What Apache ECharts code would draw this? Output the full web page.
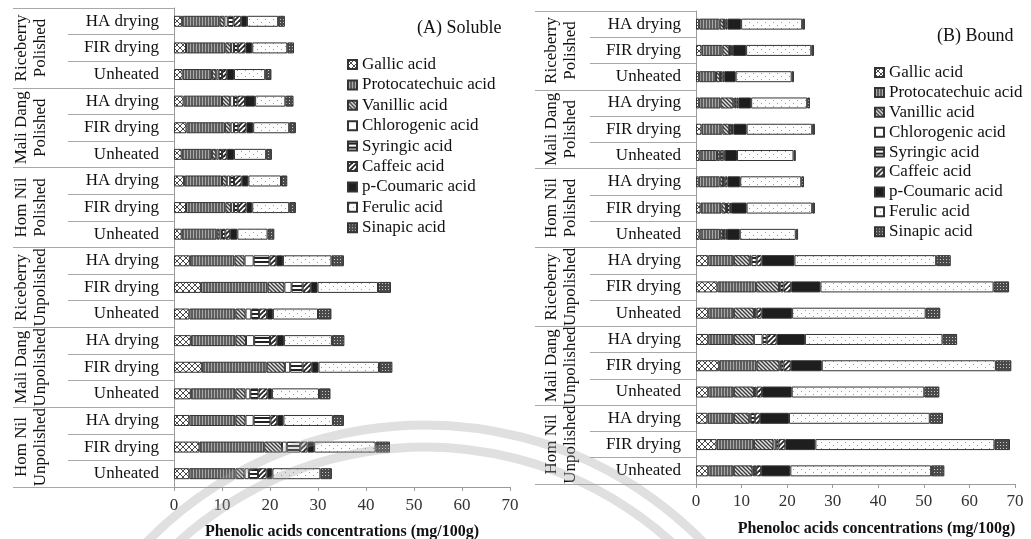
<!DOCTYPE html>
<html>
<head>
<meta charset="utf-8">
<script src="https://cdn.jsdelivr.net/npm/echarts@6/dist/echarts.min.js"></script>
<style>
  html, body { margin: 0; padding: 0; background: #fff; }
  #chart { width: 1031px; height: 539px; }
</style>
</head>
<body>
<div id="chart"></div>
<script>
// Row labels (top to bottom) and the rice sample groups they belong to
const treatments = ['HA drying', 'FIR drying', 'Unheated',
  'HA drying', 'FIR drying', 'Unheated',
  'HA drying', 'FIR drying', 'Unheated',
  'HA drying', 'FIR drying', 'Unheated',
  'HA drying', 'FIR drying', 'Unheated',
  'HA drying', 'FIR drying', 'Unheated'];
const samples = ['Riceberry\nPolished', 'Mali Dang\nPolished', 'Hom Nil\nPolished',
  'Riceberry\nUnpolished', 'Mali Dang\nUnpolished', 'Hom Nil\nUnpolished'];
const acids = ['Gallic acid', 'Protocatechuic acid', 'Vanillic acid', 'Chlorogenic acid',
  'Syringic acid', 'Caffeic acid', 'p-Coumaric acid', 'Ferulic acid', 'Sinapic acid'];
const xTicks = [0, 10, 20, 30, 40, 50, 60, 70];

// (A) Soluble phenolic acids, mg/100g, one value per row
const solGallic   = [1.7, 2.5, 1.8, 2.0, 2.6, 1.6, 2.1, 2.5, 1.6, 3.3, 5.6, 3.2, 3.5, 5.8, 3.5, 3.2, 5.3, 3.2];
const solProto    = [7.8, 8.2, 6.1, 8.0, 8.0, 6.3, 7.9, 8.2, 7.3, 9.3, 13.9, 9.6, 9.3, 13.5, 9.3, 9.6, 13.5, 9.6];
const solVanillic = [1.0, 1.2, 0.9, 1.7, 1.2, 0.9, 1.0, 1.2, 0.6, 2.1, 3.5, 2.1, 2.2, 3.8, 2.1, 2.1, 3.7, 1.9];
const solChloro   = [0.7, 0.6, 0.5, 0.8, 0.7, 0.5, 0.7, 0.6, 0.5, 1.9, 1.5, 1.2, 1.7, 1.1, 1.0, 1.7, 1.0, 0.9];
const solSyringic = [1.2, 0.8, 0.7, 0.7, 0.9, 0.7, 0.8, 0.8, 0.7, 3.3, 2.3, 1.6, 3.3, 2.6, 1.7, 3.5, 2.8, 1.9];
const solCaffeic  = [1.6, 1.6, 1.0, 1.6, 1.7, 1.0, 1.6, 1.8, 1.0, 1.4, 1.7, 1.7, 1.4, 1.9, 1.9, 1.4, 1.5, 1.8];
const solCoumaric = [1.2, 1.4, 1.5, 2.1, 1.4, 1.5, 1.4, 1.2, 1.5, 1.4, 1.4, 1.2, 1.5, 1.4, 0.9, 1.3, 1.4, 1.2];
const solFerulic  = [6.5, 7.3, 6.5, 6.3, 7.5, 6.7, 6.8, 7.7, 6.3, 10.1, 12.6, 9.4, 10.0, 12.6, 9.8, 10.3, 12.8, 10.0];
const solSinapic  = [1.4, 1.4, 1.3, 1.7, 1.4, 1.2, 1.3, 1.4, 1.4, 2.6, 2.7, 2.8, 2.6, 2.8, 2.4, 2.3, 3.0, 2.4];

// (B) Bound phenolic acids, mg/100g, one value per row
const bndGallic   = [0.7, 1.2, 0.7, 0.7, 1.2, 0.8, 0.6, 1.0, 0.8, 2.7, 4.7, 2.7, 2.7, 5.1, 2.7, 2.5, 4.5, 2.7];
const bndProto    = [4.5, 4.6, 3.7, 4.7, 4.6, 3.8, 4.6, 4.6, 4.5, 5.6, 8.5, 5.6, 5.6, 8.2, 5.6, 5.8, 8.2, 5.6];
const bndVanillic = [0.9, 1.5, 0.9, 2.8, 1.5, 0.6, 0.7, 1.0, 0.6, 3.5, 5.0, 4.4, 4.4, 5.0, 4.4, 3.4, 4.3, 4.1];
const bndChloro   = [0.1, 0.1, 0.1, 0.3, 0.1, 0.2, 0.1, 0.2, 0.2, 0.4, 0.3, 0.2, 1.9, 0.3, 0.2, 0.3, 0.6, 0.3];
const bndSyringic = [0.3, 0.3, 0.4, 0.4, 0.5, 0.6, 0.3, 0.6, 0.4, 1.1, 0.7, 0.4, 0.9, 0.6, 0.4, 0.9, 0.5, 0.5];
const bndCaffeic  = [0.4, 0.4, 0.4, 0.4, 0.3, 0.3, 0.6, 0.3, 0.3, 1.1, 1.7, 1.1, 2.2, 1.6, 1.2, 1.1, 1.5, 1.1];
const bndCoumaric = [3.0, 2.9, 2.5, 2.8, 2.9, 2.7, 2.8, 3.4, 2.8, 7.2, 6.4, 6.7, 6.2, 6.8, 6.5, 6.4, 6.6, 6.4];
const bndFerulic  = [13.4, 14.3, 12.3, 12.3, 14.4, 12.4, 13.4, 14.4, 12.3, 31.1, 38.0, 29.3, 30.2, 38.2, 29.1, 30.9, 39.3, 30.9];
const bndSinapic  = [0.6, 0.6, 0.5, 0.6, 0.6, 0.5, 0.6, 0.6, 0.5, 3.2, 3.4, 3.2, 3.2, 3.4, 3.3, 2.9, 3.4, 2.9];

const soluble = [solGallic, solProto, solVanillic, solChloro, solSyringic, solCaffeic, solCoumaric, solFerulic, solSinapic];
const bound = [bndGallic, bndProto, bndVanillic, bndChloro, bndSyringic, bndCaffeic, bndCoumaric, bndFerulic, bndSinapic];

const SERIF = '"Liberation Serif", "DejaVu Serif", "Times New Roman", serif';

// Small repeating tiles used as hatch fills, one per acid
function tile(w, h, bg, paint) {
  const c = document.createElement('canvas');
  c.width = w; c.height = h;
  const g = c.getContext('2d');
  g.fillStyle = bg; g.fillRect(0, 0, w, h);
  if (paint) paint(g);
  return { image: c, repeat: 'repeat' };
}
function seg(g, x1, y1, x2, y2) { g.beginPath(); g.moveTo(x1, y1); g.lineTo(x2, y2); g.stroke(); }

const fills = [
  // Gallic: open diagonal cross-hatch
  tile(6, 6, '#ffffff', g => { g.strokeStyle = '#4a4a4a'; g.lineWidth = 1; seg(g, 0, 0, 6, 6); seg(g, 6, 0, 0, 6); }),
  // Protocatechuic: dense vertical lines on grey
  tile(3, 2, '#5e5e5e', g => { g.fillStyle = '#a8a8a8'; g.fillRect(1, 0, 1, 2); }),
  // Vanillic: wide downward diagonal
  tile(4, 4, '#e2e2e2', g => { g.strokeStyle = '#3a3a3a'; g.lineWidth = 1.3; seg(g, 0, 0, 4, 4); seg(g, -1, 3, 1, 5); seg(g, 3, -1, 5, 1); }),
  // Chlorogenic: plain white
  '#ffffff',
  // Syringic: horizontal bars
  tile(2, 4, '#ffffff', g => { g.fillStyle = '#222222'; g.fillRect(0, 1, 2, 2); }),
  // Caffeic: bold upward diagonal
  tile(5, 5, '#ffffff', g => { g.strokeStyle = '#262626'; g.lineWidth = 1.8; seg(g, 0, 5, 5, 0); seg(g, -1, 1, 1, -1); seg(g, 4, 6, 6, 4); }),
  // p-Coumaric: solid dark
  '#1e1e1e',
  // Ferulic: sparse dots on white
  tile(8, 6, '#fdfdfd', g => { g.fillStyle = '#9a9a9a'; g.fillRect(1, 1, 1, 1); g.fillRect(5, 4, 1, 1); }),
  // Sinapic: small checker
  tile(3, 3, '#4a4a4a', g => { g.fillStyle = '#c8c8c8'; g.fillRect(1, 1, 1, 1); })
];

const panels = [
  { grid: { left: 174, top: 8, width: 336, height: 479 }, title: '(A) Soluble', titlePos: { left: 412, top: 14 },
    legendPos: { left: 342, top: 51 }, legendGap: 3.4, labelMargin: 10, nameGap: 37, groupMargin: 124,
    name: 'Phenolic acids concentrations (mg/100g)', namePad: [0, 0, 0, 0], data: soluble },
  { grid: { left: 696, top: 11, width: 319, height: 473 }, title: '(B) Bound', titlePos: { left: 932, top: 22 },
    legendPos: { left: 869, top: 59 }, legendGap: 2.9, labelMargin: 9, nameGap: 37, groupMargin: 116,
    name: 'Phenoloc acids concentrations (mg/100g)', namePad: [0, 0, 0, 42], data: bound }
];

const grids = [], xAxes = [], yAxes = [], series = [], legends = [], titles = [];
panels.forEach((p, k) => {
  // keep the plot rectangles fixed; the labels are placed around them by hand
  grids.push(Object.assign({ containLabel: false, outerBoundsMode: 'none' }, p.grid));
  titles.push(Object.assign({ text: p.title,
    textStyle: { fontFamily: SERIF, fontSize: 18, fontWeight: 'normal', color: '#111' } }, p.titlePos));
  xAxes.push({
    type: 'value', gridIndex: k, min: xTicks[0], max: xTicks[xTicks.length - 1], interval: xTicks[1] - xTicks[0],
    axisLine: { show: true, lineStyle: { color: '#9a9a9a', width: 1 } },
    axisTick: { show: true, length: 4, lineStyle: { color: '#9a9a9a' } },
    splitLine: { show: false },
    axisLabel: { fontFamily: SERIF, fontSize: 17, color: '#333', margin: p.labelMargin },
    name: p.name, nameLocation: 'middle', nameGap: p.nameGap,
    nameTextStyle: { fontFamily: SERIF, fontSize: 16, fontWeight: 'bold', color: '#111', padding: p.namePad }
  });
  // treatment rows
  yAxes.push({
    type: 'category', gridIndex: k, data: treatments, inverse: true, position: 'left',
    axisLine: { show: true, lineStyle: { color: '#9a9a9a' } },
    axisTick: { show: true, interval: 0, length: 106, lineStyle: { color: '#a8a8a8' } },
    axisLabel: { interval: 0, fontFamily: SERIF, fontSize: 17, color: '#111', margin: 15 }
  });
  // sample groups, rotated labels
  yAxes.push({
    type: 'category', gridIndex: k, data: samples, inverse: true, position: 'left',
    axisLine: { show: false },
    axisTick: { show: true, interval: 0, length: 161, lineStyle: { color: '#a8a8a8' } },
    axisLabel: { interval: 0, rotate: 90, fontFamily: SERIF, fontSize: 17, lineHeight: 19, color: '#111', margin: p.groupMargin }
  });
  legends.push(Object.assign({
    orient: 'vertical', data: acids, icon: 'rect', itemWidth: 9, itemHeight: 9, itemGap: p.legendGap,
    textStyle: { fontFamily: SERIF, fontSize: 17, color: '#111' }, selectedMode: false
  }, p.legendPos));
  acids.forEach((a, i) => {
    series.push({
      type: 'bar', name: a, xAxisIndex: k, yAxisIndex: k * 2, stack: 'panel' + k,
      barWidth: 11, data: p.data[i],
      itemStyle: { color: fills[i], borderColor: '#333', borderWidth: 1 },
      emphasis: { disabled: true }
    });
  });
});

// faint seal watermark: two concentric bands across the lower part of the page
const seal = { cx: 425, cy: 814 };
const sealBands = [389, 367].map(r => ({
  type: 'arc', silent: true, z: 100,
  shape: { cx: seal.cx, cy: seal.cy, r: r, startAngle: -Math.PI * 0.8, endAngle: -Math.PI * 0.2, clockwise: true },
  style: { fill: null, stroke: 'rgba(160,160,160,0.32)', lineWidth: 9 }
}));

const chart = echarts.init(document.getElementById('chart'), null, { renderer: 'canvas' });
chart.setOption({
  backgroundColor: '#ffffff',
  animation: false,
  title: titles,
  grid: grids,
  xAxis: xAxes,
  yAxis: yAxes,
  legend: legends,
  tooltip: { show: false },
  graphic: sealBands,
  series: series
});
</script>
</body>
</html>
